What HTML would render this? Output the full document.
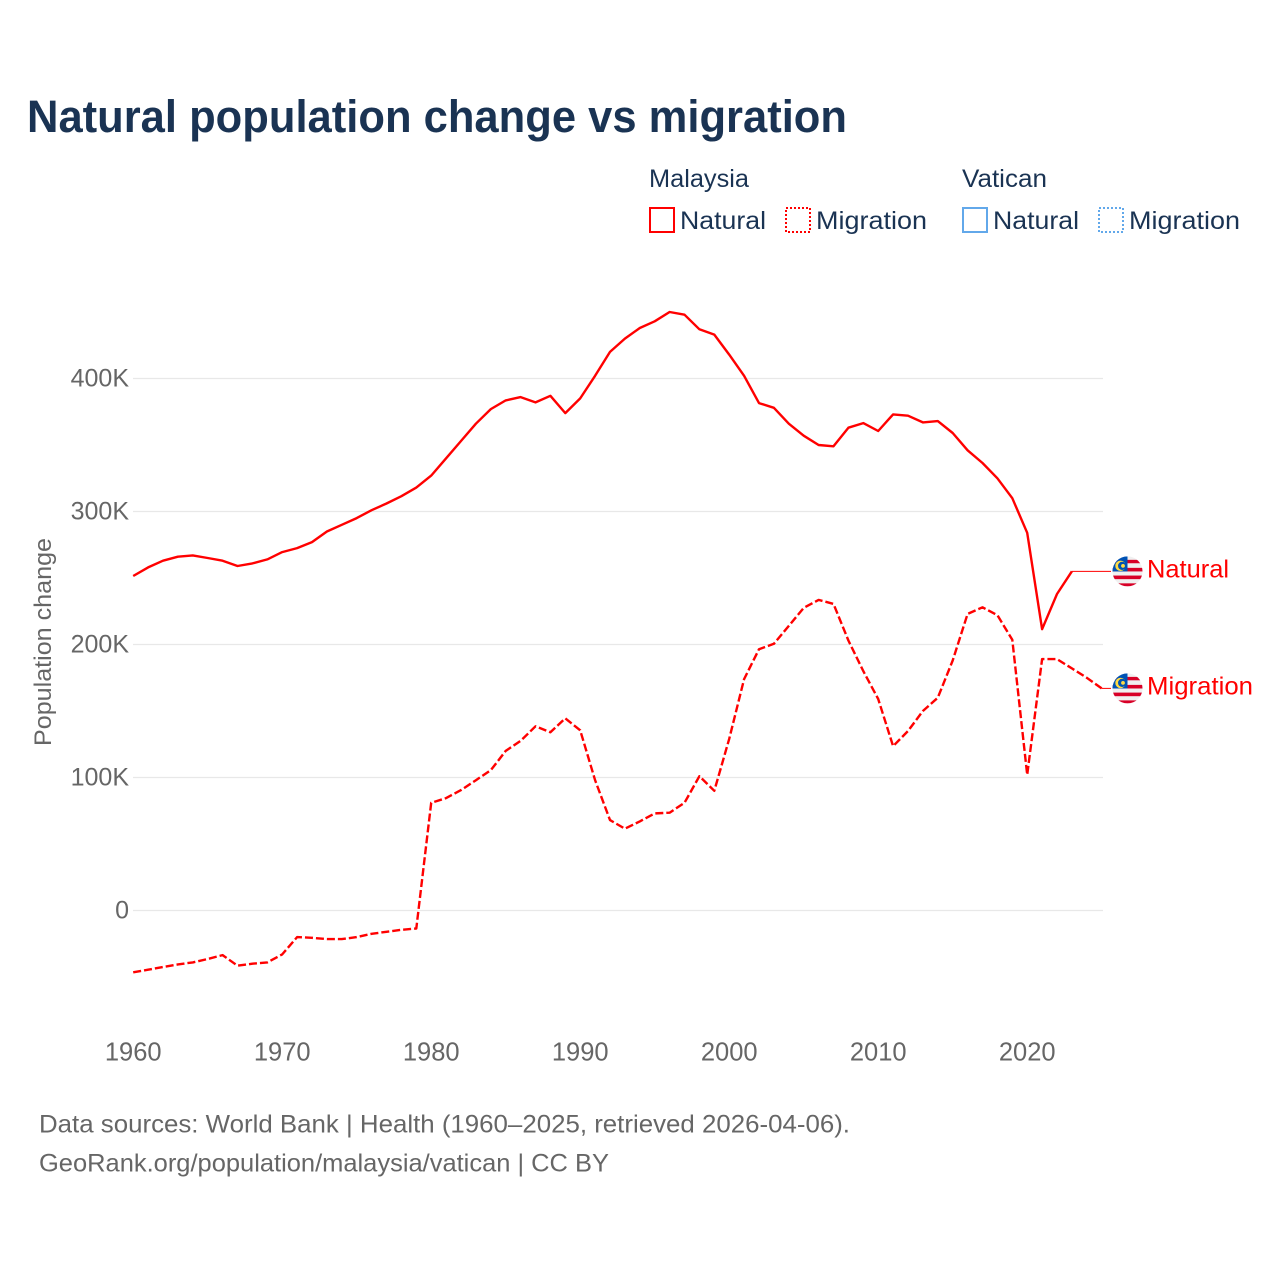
<!DOCTYPE html>
<html lang="en">
<head>
<meta charset="utf-8">
<title>Natural population change vs migration</title>
<style>
html,body{margin:0;padding:0;background:#fff;}
svg{display:block;font-family:"Liberation Sans",sans-serif;}
</style>
</head>
<body>
<svg id="chart" xmlns="http://www.w3.org/2000/svg" width="1280" height="1280" viewBox="0 0 1280 1280">
  <defs>
    <clipPath id="flag-clip"><circle cx="15" cy="15" r="15"/></clipPath>
    <g id="flag-my" clip-path="url(#flag-clip)">
      <rect x="0" y="0" width="30" height="30" fill="#f0f0f0"/>
      <rect x="0" y="3.500" width="30" height="3.4" fill="#d80027"/>
      <rect x="0" y="11.500" width="30" height="3.6" fill="#d80027"/>
      <rect x="0" y="19.200" width="30" height="3.6" fill="#d80027"/>
      <rect x="0" y="27" width="30" height="3" fill="#d80027"/>
      <rect x="0" y="0" width="15" height="15.100" fill="#0052b4"/>
      <circle cx="8" cy="9.500" r="5.200" fill="#ffda44"/>
      <circle cx="9.600" cy="9.500" r="4.100" fill="#0052b4"/>
      <circle cx="10.500" cy="9.500" r="1.900" fill="#ffda44"/>
    </g>
  </defs>

  <text x="27" y="132" font-size="45" font-weight="700" fill="#1a3353" textLength="820" lengthAdjust="spacingAndGlyphs">Natural population change vs migration</text>

  <g fill="#1a3353" font-size="25">
    <text x="649" y="187" textLength="100" lengthAdjust="spacingAndGlyphs">Malaysia</text>
    <text x="962" y="187" textLength="85" lengthAdjust="spacingAndGlyphs">Vatican</text>

    <rect x="650" y="208" width="24" height="24" fill="none" stroke="#ff0000" stroke-width="2"/>
    <text x="680" y="229" textLength="86" lengthAdjust="spacingAndGlyphs">Natural</text>
    <rect x="786" y="208" width="24" height="24" fill="none" stroke="#ff0000" stroke-width="2" stroke-dasharray="2 2"/>
    <text x="816" y="229" textLength="111" lengthAdjust="spacingAndGlyphs">Migration</text>

    <rect x="963" y="208" width="24" height="24" fill="none" stroke="#62a8ea" stroke-width="2"/>
    <text x="993" y="229" textLength="86" lengthAdjust="spacingAndGlyphs">Natural</text>
    <rect x="1099" y="208" width="24" height="24" fill="none" stroke="#62a8ea" stroke-width="2" stroke-dasharray="2 2"/>
    <text x="1129" y="229" textLength="111" lengthAdjust="spacingAndGlyphs">Migration</text>
  </g>

  <text transform="translate(51 642) rotate(-90)" text-anchor="middle" font-size="24" fill="#666666" textLength="208" lengthAdjust="spacingAndGlyphs">Population change</text>

  <g id="grid"></g>
  <g id="y-ticks"></g>
  <g id="x-ticks"></g>
  <g id="series"></g>
  <g id="end-labels"></g>

  <text x="39" y="1132.500" font-size="25" fill="#666666" textLength="811" lengthAdjust="spacingAndGlyphs">Data sources: World Bank | Health (1960–2025, retrieved 2026-04-06).</text>
  <text x="39" y="1171.500" font-size="25" fill="#666666" textLength="570" lengthAdjust="spacingAndGlyphs">GeoRank.org/population/malaysia/vatican | CC BY</text>
</svg>
<script>
const startYear = 1960;
const naturalValues = [251.5,258,263,266,267,265,263,259,261,264,269.5,272.5,277,285,290,295,301,306,311.5,318,327,340,353,366,377,383.5,386,382,387,374,385,402,420,430,438,443,450,448,437,433,418,402,381.5,378,366,357,350,349,363,366.5,360.5,373,372,367,368,359,346,336.5,325,310,284,211.5,238,255];
const migrationValues = [-46.5,-44.5,-42.5,-40.5,-39,-36.5,-33.5,-41.5,-40,-39,-33,-20,-20.5,-21.5,-21.5,-20,-17.5,-16,-14.5,-13.5,81,84.5,90.5,98,105.5,120,127.5,138.5,134,144.5,135.5,98,68,61.5,67,73,73.5,81,101,90,129,174,196.5,200.5,214,227.5,233.5,230.5,203,180,159,123.5,135,150,160,188,223,228,222,203.5,102,189,189,182,175,167];
const yTicks = [0,100,200,300,400];
const xTicks = [1960,1970,1980,1990,2000,2010,2020];

const NS = 'http://www.w3.org/2000/svg';
function xScale(year){ return 133.2 + (year - 1960) * 14.9; }
function yScale(value){ return 910.5 - value * 1.33; }
function yearOf(i){ return startYear + i; }
function linePath(values){
  return values.map(function(v,i){ return (i ? 'L' : 'M') + xScale(yearOf(i)).toFixed(1) + ' ' + yScale(v).toFixed(1); }).join(' ');
}
function make(tag, parentId){
  const el = document.createElementNS(NS, tag);
  document.getElementById(parentId).appendChild(el);
  return el;
}

yTicks.forEach(function(t){
  const g = make('line','grid');
  
  
  g.setAttribute('x1', 133);
  g.setAttribute('x2', 1103);
  g.setAttribute('y1', yScale(t));
  g.setAttribute('y2', yScale(t));
  g.setAttribute('stroke', '#e8e8e8');
  g.setAttribute('stroke-width', '1.3');

  const label = t === 0 ? '0' : t + 'K';
  const l = make('text','y-ticks');
  
  
  l.setAttribute('x', 129);
  l.setAttribute('y', yScale(t) + 8);
  l.setAttribute('text-anchor', 'end');
  l.setAttribute('font-size', '25');
  l.setAttribute('fill', '#666666');
  l.textContent = label;
});

xTicks.forEach(function(t){
  const l = make('text','x-ticks');
  
  
  l.setAttribute('x', xScale(t));
  l.setAttribute('y', 1060.5);
  l.setAttribute('text-anchor', 'middle');
  l.setAttribute('font-size', '25.5');
  l.setAttribute('fill', '#666666');
  l.textContent = String(t);
});

const natLine = make('path','series');


natLine.setAttribute('d', linePath(naturalValues));
natLine.setAttribute('fill', 'none');
natLine.setAttribute('stroke', '#ff0000');
natLine.setAttribute('stroke-width', '2.4');
natLine.setAttribute('stroke-linejoin', 'round');

const migLine = make('path','series');


migLine.setAttribute('d', linePath(migrationValues));
migLine.setAttribute('fill', 'none');
migLine.setAttribute('stroke', '#ff0000');
migLine.setAttribute('stroke-width', '2.4');
migLine.setAttribute('stroke-dasharray', '8 3');
migLine.setAttribute('stroke-linejoin', 'round');

function endLabel(values, text, nameBase, width){
  const lastYear = yearOf(values.length - 1);
  const lastValue = values[values.length - 1];
  const ey = yScale(lastValue);

  const c = make('line','end-labels');
  
  
  c.setAttribute('x1', xScale(lastYear));
  c.setAttribute('x2', 1111);
  c.setAttribute('y1', ey);
  c.setAttribute('y2', ey);
  c.setAttribute('stroke', '#ff0000');
  c.setAttribute('stroke-width', '1');

  const f = make('use','end-labels');
  
  
  f.setAttribute('href', '#flag-my');
  f.setAttribute('x', 1112.5);
  f.setAttribute('y', ey - 15);

  const t = make('text','end-labels');
  
  
  t.setAttribute('x', 1147);
  t.setAttribute('y', ey + 6);
  t.setAttribute('font-size', '25');
  t.setAttribute('fill', '#ff0000');
  t.setAttribute('textLength', width);
  t.setAttribute('lengthAdjust', 'spacingAndGlyphs');
  t.textContent = text;
}
endLabel(naturalValues, 'Natural', 'natural-end', 82);
endLabel(migrationValues, 'Migration', 'migration-end', 106);
</script>
</body>
</html>
